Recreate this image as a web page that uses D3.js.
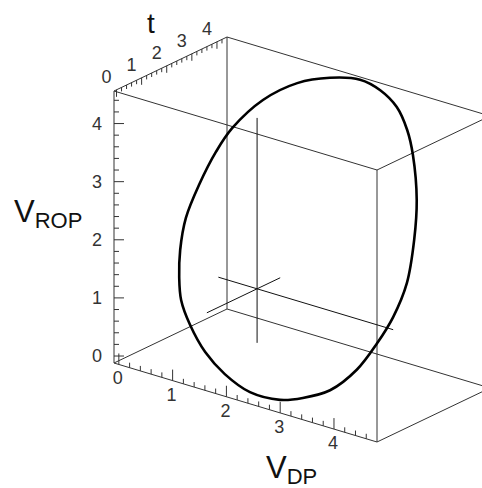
<!DOCTYPE html>
<html>
<head>
<meta charset="utf-8">
<script src="https://cdn.jsdelivr.net/npm/d3@7"></script>
<style>
  html, body { margin: 0; padding: 0; background: #fff; }
  svg { display: block; }
</style>
</head>
<body>
<svg id="chart" width="482" height="488"></svg>
<script>
// ---- axis extents and tick labels ----
const vdpDomain  = [-0.09, 4.8];
const vropDomain = [-0.12, 4.56];
const tDomain    = [-0.1, 4.4];
const vdpTicks  = [0, 1, 2, 3, 4];
const vropTicks = [0, 1, 2, 3, 4];
const tTicks    = [0, 1, 2, 3, 4];
const minorStep = 0.2;

// ---- closed trajectory (V_DP, V_ROP, t) ----
const cycleVdp  = [1.88, 2.45, 2.89, 3.30, 3.64, 3.90, 4.25, 4.45, 4.58, 4.54, 4.40, 4.19, 3.82, 3.36,
                   2.95, 2.34, 1.76, 1.26, 0.81, 0.49, 0.31, 0.16, 0.07, 0.11, 0.22, 0.37, 0.77, 1.30];
const cycleVrop = [4.43, 4.56, 4.53, 4.40, 4.16, 3.87, 3.32, 2.80, 2.21, 1.71, 1.29, 0.85, 0.45, 0.21,
                   0.07, 0.01, 0.11, 0.29, 0.56, 0.83, 1.11, 1.46, 1.90, 2.39, 2.90, 3.28, 3.80, 4.19];
const cycleT    = [4.28, 4.26, 4.12, 3.90, 3.59, 3.26, 2.66, 2.13, 1.56, 1.10, 0.76, 0.40, 0.13, 0.03,
                   0.00, 0.11, 0.35, 0.64, 1.00, 1.33, 1.64, 2.00, 2.42, 2.86, 3.30, 3.62, 3.99, 4.22];

// ---- reference cross: centre and extent along each axis ----
const crossCentre = [1.59, 1.19, 2.0];   // V_DP, V_ROP, t
const crossVdp  = [0.87, 4.12];
const crossVrop = [0.26, 4.13];
const crossT    = [0.0, 2.92];

// ---- oblique projection of the unit box ----
const origin = [114, 363];
const EX = [263, 79];     // full V_DP range on screen
const EY = [0, -272];     // full V_ROP range
const ET = [113, -54];    // full t range

const sx = d3.scaleLinear().domain(vdpDomain).range([0, 1]);
const sy = d3.scaleLinear().domain(vropDomain).range([0, 1]);
const st = d3.scaleLinear().domain(tDomain).range([0, 1]);

function P(v, r, t) {
  const a = sx(v), b = sy(r), c = st(t);
  return [origin[0] + a * EX[0] + b * EY[0] + c * ET[0],
          origin[1] + a * EX[1] + b * EY[1] + c * ET[1]];
}

const svg = d3.select("#chart");
const FONT = "'Liberation Sans', Arial, Helvetica, sans-serif";
const line = d3.line();

// ---- box edges ----
const [x0, x1] = vdpDomain, [y0, y1] = vropDomain, [t0, t1] = tDomain;
const edges = [
  [[x0,y0,t0],[x1,y0,t0]], [[x0,y1,t0],[x1,y1,t0]], [[x0,y0,t1],[x1,y0,t1]], [[x0,y1,t1],[x1,y1,t1]],
  [[x0,y0,t0],[x0,y1,t0]], [[x1,y0,t0],[x1,y1,t0]], [[x0,y0,t1],[x0,y1,t1]], [[x1,y0,t1],[x1,y1,t1]],
  [[x0,y0,t0],[x0,y0,t1]], [[x1,y0,t0],[x1,y0,t1]], [[x0,y1,t0],[x0,y1,t1]], [[x1,y1,t0],[x1,y1,t1]]
];
svg.append("g").selectAll("path").data(edges).join("path")
  .attr("d", e => line(e.map(p => P(...p))))
  .attr("fill", "none").attr("stroke", "#333").attr("stroke-width", 1);

// ---- ticks ----
function minors(dom) {
  return d3.range(0, dom[1] - 1e-6, minorStep).filter(v => v >= dom[0]);
}
function isMajor(v, majors) { return majors.some(m => Math.abs(m - v) < 1e-6); }

const tickG = svg.append("g").attr("stroke", "#333").attr("stroke-width", 1);

// V_ROP ticks point into the box (right)
minors(vropDomain).forEach(r => {
  const [px, py] = P(x0, r, t0);
  const len = isMajor(r, vropTicks) ? 10 : 5;
  tickG.append("path").attr("d", line([[px, py], [px + len, py]]));
});
// V_DP ticks point up
minors(vdpDomain).forEach(v => {
  const [px, py] = P(v, y0, t0);
  const len = isMajor(v, vdpTicks) ? 11 : 5;
  tickG.append("path").attr("d", line([[px, py], [px, py - len]]));
});
// t ticks hang down from the top-left edge
minors(tDomain).forEach(t => {
  const [px, py] = P(x0, y1, t);
  const len = isMajor(t, tTicks) ? 7 : 4;
  tickG.append("path").attr("d", line([[px, py], [px, py + len]]));
});

// ---- tick labels ----
const lab = svg.append("g").attr("font-family", FONT).attr("font-size", 18).attr("fill", "#333");
vropTicks.forEach(r => {
  const [px, py] = P(x0, r, t0);
  lab.append("text").attr("x", px - 12).attr("y", py)
    .attr("text-anchor", "end").attr("dominant-baseline", "central").text(r);
});
vdpTicks.forEach(v => {
  const [px, py] = P(v, y0, t0);
  lab.append("text").attr("x", px - 1).attr("y", py + 14)
    .attr("text-anchor", "middle").attr("dominant-baseline", "central").text(v);
});
tTicks.forEach(t => {
  const [px, py] = P(x0, y1, t);
  lab.append("text").attr("x", px - 10).attr("y", py - 12.5)
    .attr("text-anchor", "middle").attr("dominant-baseline", "central").text(t);
});

// ---- axis titles ----
const titles = svg.append("g").attr("font-family", FONT).attr("fill", "#111");
titles.append("text").attr("x", 151).attr("y", 33).attr("text-anchor", "middle")
  .attr("font-size", 28).text("t");
const tr = titles.append("text").attr("x", 14).attr("y", 222).attr("font-size", 31).text("V");
tr.append("tspan").attr("font-size", 22).attr("dy", 6).text("ROP");
const td = titles.append("text").attr("x", 266).attr("y", 478).attr("font-size", 31).text("V");
td.append("tspan").attr("font-size", 22).attr("dy", 6).text("DP");

// ---- reference cross ----
const [cv, cr, ct] = crossCentre;
const crossLines = [
  [[crossVdp[0], cr, ct], [crossVdp[1], cr, ct]],
  [[cv, crossVrop[0], ct], [cv, crossVrop[1], ct]],
  [[cv, cr, crossT[0]], [cv, cr, crossT[1]]]
];
svg.append("g").selectAll("path").data(crossLines).join("path")
  .attr("d", e => line(e.map(p => P(...p))))
  .attr("fill", "none").attr("stroke", "#111").attr("stroke-width", 1);

// ---- trajectory ----
const pts = cycleVdp.map((v, i) => P(v, cycleVrop[i], cycleT[i]));
svg.append("path")
  .attr("d", d3.line().curve(d3.curveCatmullRomClosed.alpha(0.5))(pts))
  .attr("fill", "none").attr("stroke", "#000").attr("stroke-width", 2.6);
</script>
</body>
</html>
